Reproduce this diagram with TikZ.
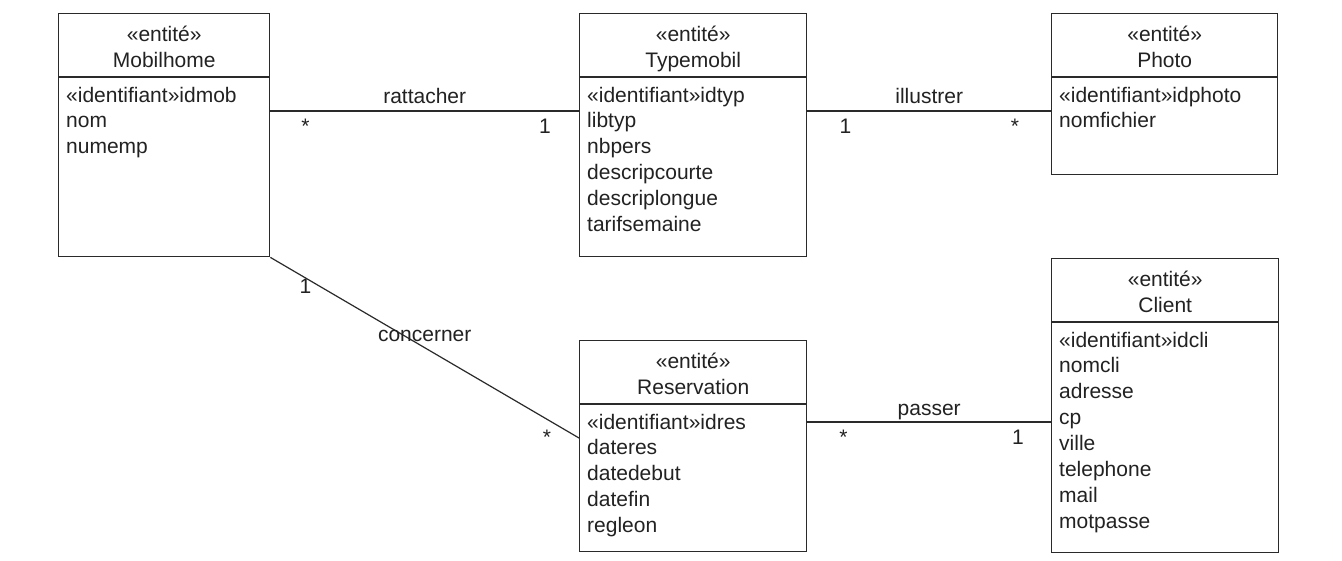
\documentclass[tikz,border=0pt]{standalone}
\usepackage{fontspec}
\setmainfont{Liberation Sans}
\usetikzlibrary{calc}

\definecolor{trait}{HTML}{2A2A2A}
\definecolor{texte}{HTML}{222222}

\tikzset{
  entite/.style={draw=trait, line width=1.4pt, anchor=north west, inner sep=0pt},
  titre/.style={anchor=base, inner sep=0pt, text=texte},
  attr/.style={anchor=base west, inner sep=0pt, text=texte},
  lien/.style={draw=trait, line width=1.2pt},
  role/.style={anchor=base, inner sep=0pt, text=texte},
}

% one entity: name, x, y, width, height, title, attributes
\newcommand\entite[7]{
  \node[entite, minimum width=#4pt, minimum height=#5pt] (#1) at (#2,#3) {};
  \draw[entite] ([yshift=-64pt]#1.north west) -- ([yshift=-64pt]#1.north east);
  \node[titre] (#1-st) at ([yshift=-28pt]#1.north) {«entité»};
  \node[titre] (#1-nm) at ([yshift=-54pt]#1.north) {#6};
  \foreach \t [count=\i from 0] in {#7}
    \node[attr] (#1-\i) at ([xshift=8pt, yshift=-89pt-25.9pt*\i]#1.north west) {\t};
}

\begin{document}
\begin{tikzpicture}[x=1pt, y=-1pt, font=\fontsize{21}{25.9}\selectfont]
  \fill[white] (0,0) rectangle (1342,560);
  \useasboundingbox (0,0) rectangle (1342,560);

  \entite{mob}{58}{13}{211}{243}{Mobilhome}{«identifiant»idmob, nom, numemp}
  \entite{typ}{579}{13}{227}{243}{Typemobil}{«identifiant»idtyp, libtyp, nbpers,
    descripcourte, descriplongue, tarifsemaine}
  \entite{pho}{1051}{13}{226}{161}{Photo}{«identifiant»idphoto, nomfichier}
  \entite{res}{579}{340}{227}{211}{Reservation}{«identifiant»idres, dateres,
    datedebut, datefin, regleon}
  \entite{cli}{1051}{258}{227}{294}{Client}{«identifiant»idcli, nomcli, adresse,
    cp, ville, telephone, mail, motpasse}

  % associations
  \draw[lien] ([yshift=-98pt]mob.north east) -- ([yshift=-98pt]typ.north west)
    node[role, midway, yshift=8pt] {rattacher}
    node[role, at start, xshift=35pt, yshift=-22pt] {*}
    node[role, at end, xshift=-34pt, yshift=-22pt] {1};
  \draw[lien] ([yshift=-98pt]typ.north east) -- ([yshift=-98pt]pho.north west)
    node[role, midway, yshift=8pt] {illustrer}
    node[role, at start, xshift=38pt, yshift=-22pt] {1}
    node[role, at end, xshift=-36pt, yshift=-22pt] {*};
  \draw[lien] (mob.south east) -- ([yshift=-98pt]res.north west)
    node[role, midway, yshift=6pt] {concerner}
    node[role, at start, xshift=35pt, yshift=-36pt] {1}
    node[role, at end, xshift=-32pt, yshift=-6pt] {*};
  \draw[lien] ([yshift=-82pt]res.north east) -- ([yshift=-164pt]cli.north west)
    node[role, midway, yshift=7pt] {passer}
    node[role, at start, xshift=36pt, yshift=-22pt] {*}
    node[role, at end, xshift=-33pt, yshift=-22pt] {1};
\end{tikzpicture}
\end{document}
